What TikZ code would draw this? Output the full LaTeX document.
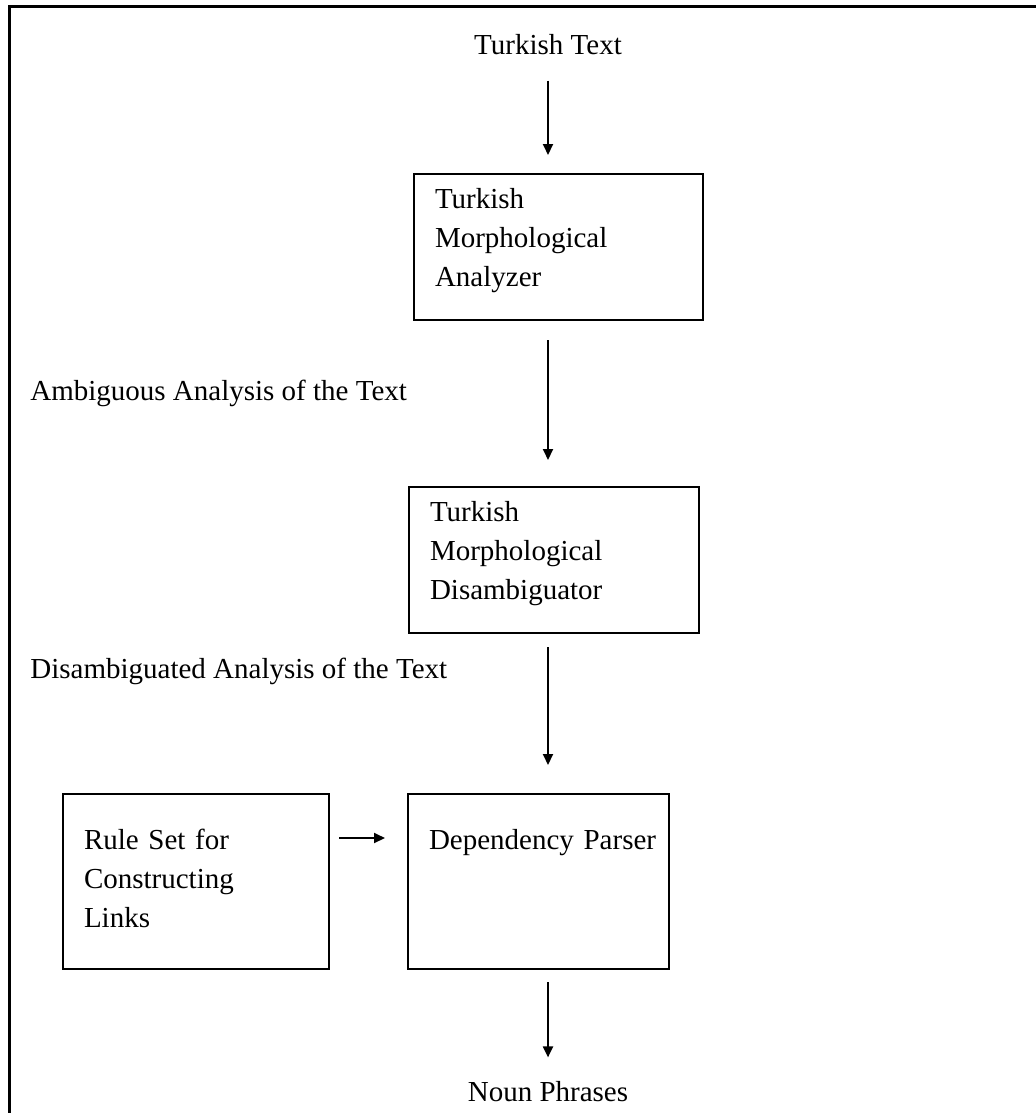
\documentclass[tikz,border=0pt]{standalone}
\usepackage{fontspec}
\setmainfont{Liberation Serif}
\usetikzlibrary{arrows.meta,positioning}

\begin{document}
\begin{tikzpicture}[x=0.5pt,y=-0.5pt, every node/.style={font=\fontsize{14.5}{19.5}\selectfont}, box/.style={draw,line width=1pt,anchor=north west,align=left,inner xsep=10.5pt,inner ysep=0pt}, lbl/.style={inner sep=0pt}, arr/.style={-{Triangle[length=5.5pt,width=5pt]},line width=1pt}]
\useasboundingbox (0,0) rectangle (1036,1113);
\draw[line width=1.5pt] (9,1125) |- (1050,7);
\node[lbl] (src) at (548,45) {Turkish Text};
\node[box,text width=123.5pt,text height=17pt,text depth=56pt] (anal) at (413,173) {Turkish\\Morphological\\Analyzer};
\node[lbl,anchor=west] (amb) at (30,393) {Ambiguous Analysis of the Text};
\node[box,text width=124pt,text height=17pt,text depth=56pt] (disamb) at (408,486) {Turkish\\Morphological\\Disambiguator};
\node[lbl,anchor=west] (dis) at (30,671) {Disambiguated Analysis of the Text};
\node[box,text width=112pt,text height=27.5pt,text depth=60pt] (rules) at (62,793) {Rule Set for\\Constructing\\Links};
\node[box,text width=109.5pt,text height=27.5pt,text depth=60pt] (parser) at (407,793) {Dependency~Parser};
\node[lbl] (np) at (548,1092) {Noun Phrases};
\draw[arr,shorten <=12.5pt,shorten >=9pt] (src) -- (src |- anal.north);
\draw[arr,shorten <=9.5pt,shorten >=13pt] (anal.south -| src) -- (disamb.north -| src);
\draw[arr,shorten <=6.5pt,shorten >=14pt] (disamb.south -| src) -- (parser.north -| src);
\draw[arr,shorten <=4.5pt,shorten >=11pt] ([yshift=-22.5pt]rules.north east) -- ([yshift=-22.5pt]rules.north east -| parser.west);
\draw[arr,shorten <=6pt,shorten >=12pt] (parser.south -| src) -- (np);
\end{tikzpicture}
\end{document}
